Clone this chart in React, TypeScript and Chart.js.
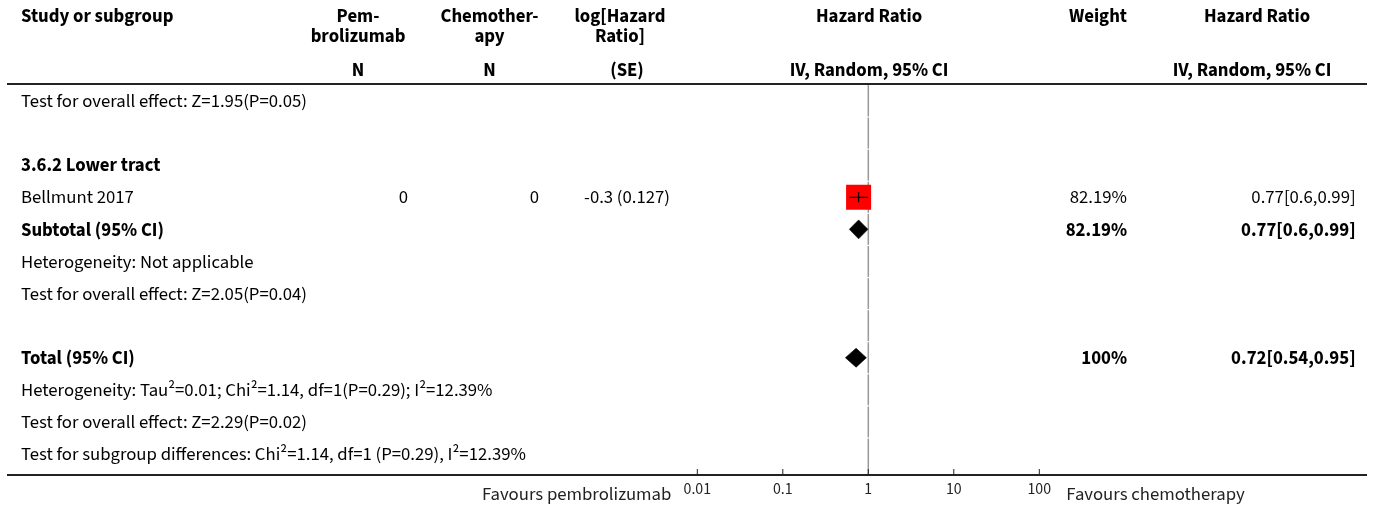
import React, { useEffect, useRef } from "react";
import { Chart, registerables } from "chart.js";

Chart.register(...registerables);

// ---------------- data ----------------
const rowLabels = [
  "Test for overall effect: Z=1.95(P=0.05)",
  "",
  "3.6.2 Lower tract",
  "Bellmunt 2017",
  "Subtotal (95% CI)",
  "Heterogeneity: Not applicable",
  "Test for overall effect: Z=2.05(P=0.04)",
  "",
  "Total (95% CI)",
  "Heterogeneity: Tau\u00b2=0.01; Chi\u00b2=1.14, df=1(P=0.29); I\u00b2=12.39%",
  "Test for overall effect: Z=2.29(P=0.02)",
  "Test for subgroup differences: Chi\u00b2=1.14, df=1 (P=0.29), I\u00b2=12.39%",
];
const rowBold = [false, false, true, false, true, false, false, false, true, false, false, false];

const studyRows = [3];
const pembroN = [0];
const chemoN = [0];
const logHR = [-0.3];
const seLogHR = [0.127];
const studyHR = [0.77];
const studyLower = [0.6];
const studyUpper = [0.99];
const studyWeight = [82.19];

const pooledRows = [4, 8];
const pooledHR = [0.77, 0.72];
const pooledLower = [0.6, 0.54];
const pooledUpper = [0.99, 0.95];
const pooledWeight = [82.19, 100];

const axisTicks = [0.01, 0.1, 1, 10, 100];
const axisTickLabels = ["0.01", "0.1", "1", "10", "100"];
const favoursLeft = "Favours pembrolizumab";
const favoursRight = "Favours chemotherapy";

const headStudy = "Study or subgroup";
const headPem = ["Pem-", "brolizumab"];
const headChemo = ["Chemother-", "apy"];
const headLog = ["log[Hazard", "Ratio]"];
const headHR = "Hazard Ratio";
const headWeight = "Weight";
const subN = "N";
const subSE = "(SE)";
const subMethod = "IV, Random, 95% CI";

// ---------------- layout / style ----------------
const W = 1373;
const H = 506;
const FAMILY = '"Source Sans Pro", "Source Sans 3", "Open Sans", sans-serif';
const PLOT_LEFT = 697.3;
const PLOT_RIGHT = 1039.3;
const PLOT_TOP = 84;
const PLOT_BOTTOM = 475;
const ROW_MIN = -0.53;
const ROW_MAX = 11.654;
const DIAMOND_HALF = 0.295; // row units
const TICK_PAD = 6;

const X_STUDY = 21;
const C_PEM = 358;
const R_PEM = 408;
const C_CHEMO = 489.5;
const R_CHEMO = 539;
const C_LOG = 620;
const C_SE = 627;
const R_LOG = 670;
const C_HR = 869;
const C_WEIGHT = 1098;
const R_WEIGHT = 1127;
const C_HR2 = 1257;
const C_HR2_SUB = 1252;
const R_HR2 = 1355.6;
const HEAD_Y1 = 22;
const HEAD_Y2 = 42;
const HEAD_Y3 = 76;

const fmtCI = (hr: number, lo: number, hi: number) => `${hr}[${lo},${hi}]`;

export default function App() {
  const ref = useRef<HTMLCanvasElement>(null);

  useEffect(() => {
    const canvas = ref.current!;
    const m = canvas.getContext("2d")!;
    const fit = (weight: string, text: string, target: number) => {
      m.font = `${weight} 100px ${FAMILY}`;
      return (100 * target) / m.measureText(text).width;
    };
    const fsReg = fit("normal", rowLabels[0], 286);
    const fsBold = fit("bold", "Subtotal (95% CI)", 143);
    const fsTick = fit("normal", "0.01", 27.5);
    const axisH = fsTick * 1.2 + 2 * TICK_PAD;

    const forestPlugin = {
      id: "forest",
      beforeDatasetsDraw(chart: any) {
        const { ctx, chartArea, scales } = chart;
        const x1 = scales.x.getPixelForValue(1);
        const ys = scales.y;
        ctx.save();
        ctx.strokeStyle = "#999";
        ctx.lineWidth = 1.5;
        // reference line at HR = 1, drawn row by row
        const bounds: number[] = [chartArea.top];
        for (let r = 0; r < rowLabels.length - 1; r++) bounds.push(ys.getPixelForValue(r + 0.5));
        bounds.push(chartArea.bottom);
        for (let i = 0; i < bounds.length - 1; i++) {
          ctx.beginPath();
          ctx.moveTo(x1, bounds[i] + (i === 0 ? 0 : 0.6));
          ctx.lineTo(x1, bounds[i + 1] - 0.6);
          ctx.stroke();
        }
        ctx.restore();
      },
      afterDraw(chart: any) {
        const { ctx, chartArea, scales } = chart;
        const xs = scales.x;
        const ys = scales.y;
        const reg = `normal ${fsReg}px ${FAMILY}`;
        const bold = `bold ${fsBold}px ${FAMILY}`;
        const txt = (s: string, x: number, y: number, align: CanvasTextAlign, b: boolean, color = "#000") => {
          ctx.font = b ? bold : reg;
          ctx.textAlign = align;
          ctx.fillStyle = color;
          ctx.fillText(s, x, y);
        };
        ctx.save();
        ctx.textBaseline = "alphabetic";

        // header
        txt(headStudy, X_STUDY, HEAD_Y1, "left", true);
        txt(headPem[0], C_PEM, HEAD_Y1, "center", true);
        txt(headPem[1], C_PEM, HEAD_Y2, "center", true);
        txt(headChemo[0], C_CHEMO, HEAD_Y1, "center", true);
        txt(headChemo[1], C_CHEMO, HEAD_Y2, "center", true);
        txt(headLog[0], C_LOG, HEAD_Y1, "center", true);
        txt(headLog[1], C_LOG, HEAD_Y2, "center", true);
        txt(headHR, C_HR, HEAD_Y1, "center", true);
        txt(headWeight, C_WEIGHT, HEAD_Y1, "center", true);
        txt(headHR, C_HR2, HEAD_Y1, "center", true);
        txt(subN, C_PEM, HEAD_Y3, "center", true);
        txt(subN, C_CHEMO, HEAD_Y3, "center", true);
        txt(subSE, C_SE, HEAD_Y3, "center", true);
        txt(subMethod, C_HR, HEAD_Y3, "center", true);
        txt(subMethod, C_HR2_SUB, HEAD_Y3, "center", true);

        // header rule
        ctx.strokeStyle = "#222";
        ctx.lineWidth = 2;
        ctx.beginPath();
        ctx.moveTo(7, chartArea.top);
        ctx.lineTo(1367, chartArea.top);
        ctx.stroke();

        // rows
        const base = (r: number) => ys.getPixelForValue(r) + fsReg * 0.33;
        rowLabels.forEach((s, r) => {
          if (s) txt(s, X_STUDY, base(r), "left", rowBold[r]);
        });
        studyRows.forEach((r, i) => {
          const y = base(r);
          txt(String(pembroN[i]), R_PEM, y, "right", false);
          txt(String(chemoN[i]), R_CHEMO, y, "right", false);
          txt(`${logHR[i]} (${seLogHR[i]})`, R_LOG, y, "right", false);
          txt(`${studyWeight[i]}%`, R_WEIGHT, y, "right", false);
          txt(fmtCI(studyHR[i], studyLower[i], studyUpper[i]), R_HR2, y, "right", false);
        });
        pooledRows.forEach((r, i) => {
          const y = base(r);
          txt(`${pooledWeight[i]}%`, R_WEIGHT, y, "right", true);
          txt(fmtCI(pooledHR[i], pooledLower[i], pooledUpper[i]), R_HR2, y, "right", true);
        });

        // axis line across the whole table, with tick marks
        ctx.strokeStyle = "#222";
        ctx.lineWidth = 2;
        ctx.beginPath();
        ctx.moveTo(7, chartArea.bottom);
        ctx.lineTo(1367, chartArea.bottom);
        ctx.stroke();
        ctx.lineWidth = 1;
        axisTicks.forEach((v) => {
          const x = xs.getPixelForValue(v);
          ctx.beginPath();
          ctx.moveTo(x, chartArea.bottom - 6);
          ctx.lineTo(x, chartArea.bottom);
          ctx.stroke();
        });

        const fy = chartArea.bottom + 25;
        txt(favoursLeft, xs.left - 26, fy, "right", false, "#222");
        txt(favoursRight, xs.right + 27, fy, "left", false, "#222");
        ctx.restore();
      },
    };

    const squareRadius = (w: number) => (2.76 * Math.sqrt(w)) / 2 / Math.SQRT1_2;

    const datasets: any[] = [];
    studyRows.forEach((r, i) => {
      datasets.push({
        label: "ci",
        data: [
          { x: studyLower[i], y: r },
          { x: studyHR[i], y: r },
          { x: studyUpper[i], y: r },
        ],
        showLine: true,
        borderColor: "#000",
        borderWidth: 1.3,
        pointStyle: "line",
        pointRotation: 90,
        pointRadius: [0, 5, 0],
        pointBorderColor: "#000",
        pointBorderWidth: 1.3,
        order: 0,
      });
    });
    datasets.push({
      label: "studies",
      data: studyHR.map((v, i) => ({ x: v, y: studyRows[i] })),
      pointStyle: "rect",
      pointRadius: studyWeight.map(squareRadius),
      backgroundColor: "#ff0000",
      borderWidth: 0,
      pointBorderWidth: 0,
      order: 1,
    });
    pooledRows.forEach((r, i) => {
      datasets.push({
        label: "pooled",
        data: [
          { x: pooledLower[i], y: r },
          { x: pooledHR[i], y: r - DIAMOND_HALF },
          { x: pooledUpper[i], y: r },
          { x: pooledHR[i], y: r + DIAMOND_HALF },
          { x: pooledLower[i], y: r },
        ],
        showLine: true,
        fill: "shape",
        backgroundColor: "#000",
        borderColor: "#000",
        borderWidth: 0.6,
        pointRadius: 0,
        order: 2,
      });
    });

    const chart = new Chart(canvas, {
      type: "scatter",
      data: { datasets },
      options: {
        animation: false,
        responsive: false,
        maintainAspectRatio: false,
        devicePixelRatio: 1,
        events: [],
        layout: {
          padding: {
            left: PLOT_LEFT,
            right: W - PLOT_RIGHT,
            top: PLOT_TOP,
            bottom: H - PLOT_BOTTOM - axisH,
          },
        },
        plugins: { legend: { display: false }, tooltip: { enabled: false } },
        scales: {
          x: {
            type: "logarithmic",
            position: "bottom",
            min: axisTicks[0],
            max: axisTicks[axisTicks.length - 1],
            grid: { display: false, drawTicks: false },
            border: { display: false },
            afterBuildTicks: (scale: any) => {
              scale.ticks = axisTicks.map((v) => ({ value: v }));
            },
            ticks: {
              autoSkip: false,
              maxRotation: 0,
              padding: TICK_PAD,
              color: "#222",
              font: { family: FAMILY, size: fsTick },
              callback: (_v: any, i: number) => axisTickLabels[i],
            },
          },
          y: {
            type: "linear",
            display: false,
            reverse: true,
            min: ROW_MIN,
            max: ROW_MAX,
          },
        },
      } as any,
      plugins: [forestPlugin],
    });
    return () => chart.destroy();
  }, []);

  return (
    <div style={{ position: "absolute", left: 0, top: 0, width: W, height: H, background: "#fff" }}>
      <canvas ref={ref} width={W} height={H} style={{ width: W, height: H, display: "block" }} />
    </div>
  );
}
